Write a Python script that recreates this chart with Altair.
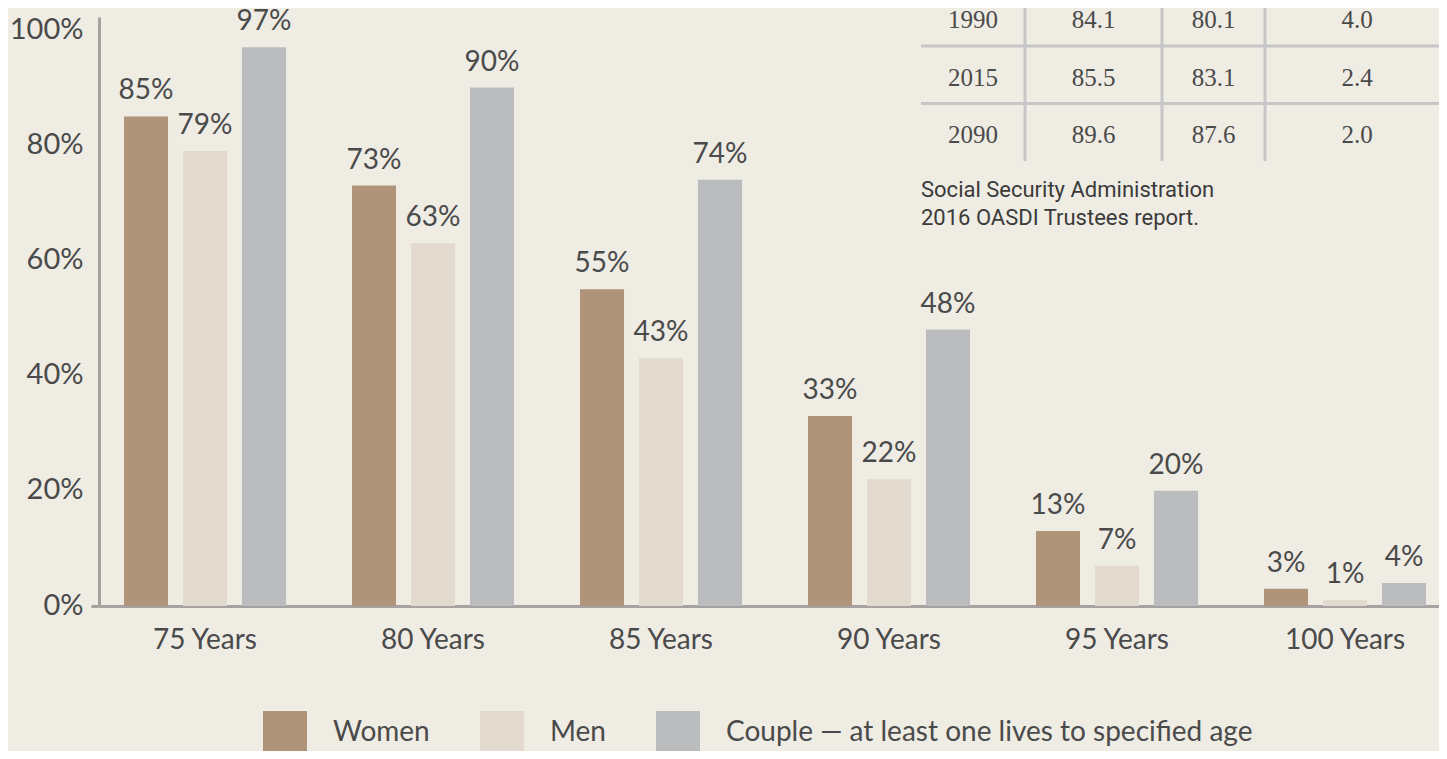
import altair as alt
import pandas as pd

# ---------------- data ----------------
ages = ["75 Years", "80 Years", "85 Years", "90 Years", "95 Years", "100 Years"]
series = ["Women", "Men", "Couple — at least one lives to specified age"]
women = [0.85, 0.73, 0.55, 0.33, 0.13, 0.03]
men = [0.79, 0.63, 0.43, 0.22, 0.07, 0.01]
couple = [0.97, 0.90, 0.74, 0.48, 0.20, 0.04]

table_years = ["1990", "2015", "2090"]
table_women = [84.1, 85.5, 89.6]
table_men = [80.1, 83.1, 87.6]
table_diff = [4.0, 2.4, 2.0]

source_lines = ["Social Security Administration", "2016 OASDI Trustees report."]

# ---------------- style / layout ----------------
colors = ["#b09479", "#e2d9cf", "#bbbcbe"]
BG = "#efece4"
TEXT = "#4a4a4a"
AXIS = "#a5a2a0"
GRIDLINE = "#c6c6c6"
FONT = "Lato"
FW = 400

PLOT_W, PLOT_H = 1340, 589
TABLE_COL_W = [104, 137, 103, 184]          # table column widths (table units)
TABLE_RANGE_X = [822, 822 + sum(TABLE_COL_W)]
TABLE_RANGE_Y = [-28.5, 144]                 # rows 0..3
SOURCE_Y0, SOURCE_DY = 3.63, 0.487

# ---------------- frames ----------------
rows = []
for s, vals in zip(series, [women, men, couple]):
    for a, v in zip(ages, vals):
        rows.append({"age": a, "series": s, "value": v})
bars_df = pd.DataFrame(rows)

edges = [0]
for w in TABLE_COL_W:
    edges.append(edges[-1] + w)
centers = [(edges[i] + edges[i + 1]) / 2 for i in range(len(TABLE_COL_W))]

cells = []
for i, (yr, w, m, d) in enumerate(zip(table_years, table_women, table_men, table_diff)):
    for j, txt in enumerate([yr, f"{w:.1f}", f"{m:.1f}", f"{d:.1f}"]):
        cells.append({"cx": centers[j], "cy": i + 0.5, "txt": txt})
cells_df = pd.DataFrame(cells)

n_rows = len(table_years)
vlines_df = pd.DataFrame({"x": edges[1:-1], "y0": 0, "y1": n_rows})
hlines_df = pd.DataFrame({"y": list(range(1, n_rows)), "x0": edges[0], "x1": edges[-1]})
src_df = pd.DataFrame({"txt": source_lines,
                       "x": 0,
                       "y": [SOURCE_Y0 + k * SOURCE_DY for k in range(len(source_lines))]})

# ---------------- bar chart ----------------
xscale = alt.Scale(paddingInner=0.2895, paddingOuter=0.0834, align=0.658)
base = alt.Chart(bars_df).encode(
    x=alt.X("age:N", sort=ages, scale=xscale,
            axis=alt.Axis(title=None, labelAngle=0, ticks=False, domainColor=AXIS,
                          domainWidth=3, labelFont=FONT, labelFontWeight=FW,
                          labelFontSize=28, labelColor=TEXT, labelPadding=20)),
    xOffset=alt.XOffset("series:N", sort=series,
                        scale=alt.Scale(paddingInner=0.254, paddingOuter=0)),
    y=alt.Y("value:Q", scale=alt.Scale(domain=[0, 1.0226], nice=False, zero=True),
            axis=alt.Axis(title=None, values=[0, 0.2, 0.4, 0.6, 0.8, 1.0], format=".0%",
                          grid=False, domainColor=AXIS, domainWidth=3, ticks=True,
                          tickSize=8, tickWidth=3, tickColor=AXIS,
                          tickOpacity={"condition": {"test": "datum.value === 0", "value": 1},
                                       "value": 0},
                          labelFont=FONT, labelFontWeight=FW, labelFontSize=29,
                          labelColor=TEXT, labelPadding=8, labelOffset=-1)),
)

bars = base.mark_bar().encode(
    color=alt.Color("series:N", sort=series,
                    scale=alt.Scale(domain=series, range=colors),
                    legend=alt.Legend(title=None, orient="none", legendX=164, legendY=694,
                                      direction="horizontal", symbolType="square",
                                      symbolSize=1936, symbolStrokeWidth=0, symbolOpacity=1,
                                      labelFont=FONT, labelFontWeight=FW, labelFontSize=28,
                                      labelColor=TEXT, labelOffset=26, columnPadding=50,
                                      labelLimit=1000, padding=0))
)

labels = base.mark_text(baseline="alphabetic", dy=-17, font=FONT, fontWeight=FW,
                        fontSize=28, color=TEXT).encode(
    text=alt.Text("value:Q", format=".0%"))

main = alt.layer(bars, labels)

# ---------------- table ----------------
tx = alt.Scale(domain=[0, edges[-1]], range=TABLE_RANGE_X, nice=False, zero=False)
ty = alt.Scale(domain=[0, n_rows], range=TABLE_RANGE_Y, nice=False, zero=False)

vlines = alt.Chart(vlines_df).mark_rule(color=GRIDLINE, strokeWidth=3).encode(
    x=alt.X("x:Q", scale=tx, axis=None),
    y=alt.Y("y0:Q", scale=ty, axis=None),
    y2="y1:Q",
)
hlines = alt.Chart(hlines_df).mark_rule(color=GRIDLINE, strokeWidth=3).encode(
    y=alt.Y("y:Q", scale=ty, axis=None),
    x=alt.X("x0:Q", scale=tx, axis=None),
    x2="x1:Q",
)
cell_text = alt.Chart(cells_df).mark_text(font="Liberation Serif", fontSize=25,
                                          color=TEXT, baseline="alphabetic", dy=11).encode(
    x=alt.X("cx:Q", scale=tx, axis=None),
    y=alt.Y("cy:Q", scale=ty, axis=None),
    text="txt:N",
)
source = alt.Chart(src_df).mark_text(font="Roboto", fontSize=22,
                                     color="#3a3a3a", baseline="alphabetic",
                                     align="left").encode(
    x=alt.X("x:Q", scale=tx, axis=None),
    y=alt.Y("y:Q", scale=ty, axis=None),
    text="txt:N",
)
table = alt.layer(vlines, hlines, cell_text, source)

chart = (
    alt.layer(main, table)
    .resolve_scale(x="independent", y="independent")
    .properties(width=PLOT_W, height=PLOT_H,
                autosize=alt.AutoSizeParams(type="none"),
                padding={"left": 91, "top": 9, "right": 0, "bottom": 145},
                background=BG)
    .configure_view(stroke=None)
)

chart.save("out.html", embed_options={"renderer": "svg", "actions": False})
